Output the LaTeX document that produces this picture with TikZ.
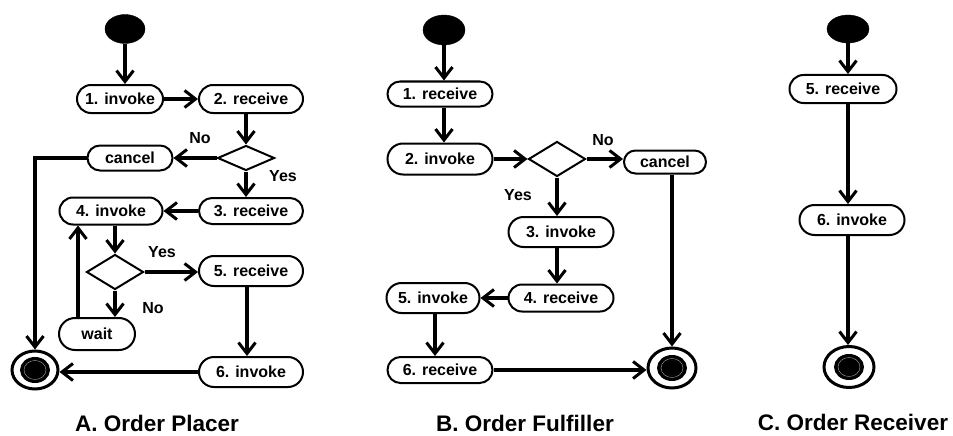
\documentclass[tikz,border=0pt]{standalone}
\usepackage{fontspec}
\setmainfont{Liberation Sans}
\usetikzlibrary{shapes.misc,shapes.geometric,arrows.meta}
\tikzset{
  act/.style={rounded rectangle, draw, line width=2pt, fill=white, inner sep=0pt,
    font=\fontsize{16}{18}\selectfont\bfseries},
  dec/.style={diamond, draw, line width=2pt, fill=white, inner sep=0pt, minimum width=57pt, minimum height=35pt},
  startnode/.style={ellipse, fill=black, draw=black, minimum width=40pt, minimum height=29pt, inner sep=0pt},
  endnode/.style={ellipse, draw, line width=3pt, fill=white, minimum width=46pt, minimum height=38pt, inner sep=0pt,
    path picture={
      \fill[black] (path picture bounding box.center) ellipse (15pt and 13pt);
      \draw[gray!70, line width=0.4pt] (path picture bounding box.center) ellipse (11pt and 9.5pt);
    }},
  arr/.style={line width=3.2pt, -{Straight Barb[length=11pt,width=17pt,line width=3pt]}},
  lbl/.style={font=\fontsize{16}{18}\selectfont\bfseries, inner sep=0pt},
  ttl/.style={font=\fontsize{22.5}{26}\selectfont\bfseries, inner sep=0pt}
}
\begin{document}
\begin{tikzpicture}[x=1pt,y=-1pt]
\useasboundingbox (0,0) rectangle (953,436);
% ---------- Panel A ----------
\node[startnode] (sA) at (125,29) {};
\node[act, minimum width=86pt, minimum height=28pt] (a1) at (120,99) {1. invoke};
\node[act, minimum width=104pt, minimum height=28pt] (a2) at (251,99) {2. receive};
\node[dec, minimum height=25pt] (dA1) at (246,158) {};
\node[act, minimum width=85pt, minimum height=25pt] (acan) at (130,158) {cancel};
\node[act, minimum width=104pt, minimum height=26pt] (a3) at (251,211) {3. receive};
\node[act, minimum width=103pt, minimum height=27pt] (a4) at (111,211) {4. invoke};
\node[dec] (dA2) at (115,272) {};
\node[act, minimum width=104pt, minimum height=30pt] (a5) at (251,271) {5. receive};
\node[act, minimum width=76pt, minimum height=32pt] (aw) at (97,334) {wait};
\node[act, minimum width=104pt, minimum height=30pt] (a6) at (251,372) {6. invoke};
\node[endnode] (eA) at (35,370) {};
\node[ttl] (tA) at (157,423) {A. Order Placer};
\node[lbl] (noA1) at (200,138) {No};
\node[lbl] (yesA1) at (283,176) {Yes};
\node[lbl] (yesA2) at (162,252) {Yes};
\node[lbl] (noA2) at (153,308) {No};

\draw[arr] (sA.south) -- (sA.south |- a1.north);
\draw[arr] (a1.east) -- (a2.west);
\draw[arr] (dA1.north |- a2.south) -- (dA1.north);
\draw[arr] (dA1.west) -- (acan.east);
\draw[arr] (acan.west) -| (eA.north);
\draw[arr] (dA1.south) -- (dA1.south |- a3.north);
\draw[arr] (a3.west) -- (a4.east);
\draw[arr] (dA2.north |- a4.south) -- (dA2.north);
\draw[arr] (dA2.east) -- (dA2.east -| a5.west);
\draw[arr] (dA2.south) -- (dA2.south |- aw.north);
\draw[arr] ([xshift=-19pt]aw.north) -- ([xshift=-19pt]aw.north |- a4.south);
\draw[arr] ([xshift=-4pt]a5.south) -- ([xshift=-4pt]a5.south |- a6.north);
\draw[arr] (a6.west) -- (a6.west -| eA.east);

% ---------- Panel B ----------
\node[startnode, minimum width=42pt, minimum height=30pt] (sB) at (444,30) {};
\node[act, minimum width=105pt, minimum height=25pt] (b1) at (440,94) {1. receive};
\node[act, minimum width=105pt, minimum height=31pt] (b2) at (440,159) {2. invoke};
\node[dec] (dB) at (557,159) {};
\node[act, minimum width=82pt, minimum height=23pt] (bcan) at (665,162) {cancel};
\node[act, minimum width=105pt, minimum height=30pt] (b3) at (561,232) {3. invoke};
\node[act, minimum width=105pt, minimum height=27pt] (b4) at (561,298) {4. receive};
\node[act, minimum width=93pt, minimum height=30pt] (b5) at (433,298) {5. invoke};
\node[act, minimum width=105pt, minimum height=26pt] (b6) at (440,370) {6. receive};
\node[endnode, minimum width=48pt, minimum height=40pt] (eB) at (672,368) {};
\node[ttl] (tB) at (525,423) {B. Order Fulfiller};
\node[lbl] (noB) at (603,140) {No};
\node[lbl] (yesB) at (518,195) {Yes};

\draw[arr] (sB.south) -- (sB.south |- b1.north);
\draw[arr] (sB.south |- b1.south) -- (sB.south |- b2.north);
\draw[arr] (b2.east) -- (dB.west);
\draw[arr] (dB.east) -- (dB.east -| bcan.west);
\draw[arr] (eB.north |- bcan.south) -- (eB.north);
\draw[arr] (dB.south) -- (dB.south |- b3.north);
\draw[arr] (dB.south |- b3.south) -- (dB.south |- b4.north);
\draw[arr] (b4.west) -- (b5.east);
\draw[arr] ([xshift=2pt]b5.south) -- ([xshift=2pt]b5.south |- b6.north);
\draw[arr] (b6.east) -- (b6.east -| eB.west);

% ---------- Panel C ----------
\node[startnode, minimum width=42pt, minimum height=28pt] (sC) at (848,29) {};
\node[act, minimum width=107pt, minimum height=28pt] (c5) at (843,89) {5. receive};
\node[act, minimum width=105pt, minimum height=30pt] (c6) at (852,220) {6. invoke};
\node[endnode, minimum width=50pt, minimum height=41pt] (eC) at (849,367) {};
\node[ttl] (tC) at (853,422) {C. Order Receiver};

\draw[arr] (sC.south) -- (sC.south |- c5.north);
\draw[arr] (sC.south |- c5.south) -- (sC.south |- c6.north);
\draw[arr] (sC.south |- c6.south) -- (sC.south |- eC.north);
\end{tikzpicture}
\end{document}
